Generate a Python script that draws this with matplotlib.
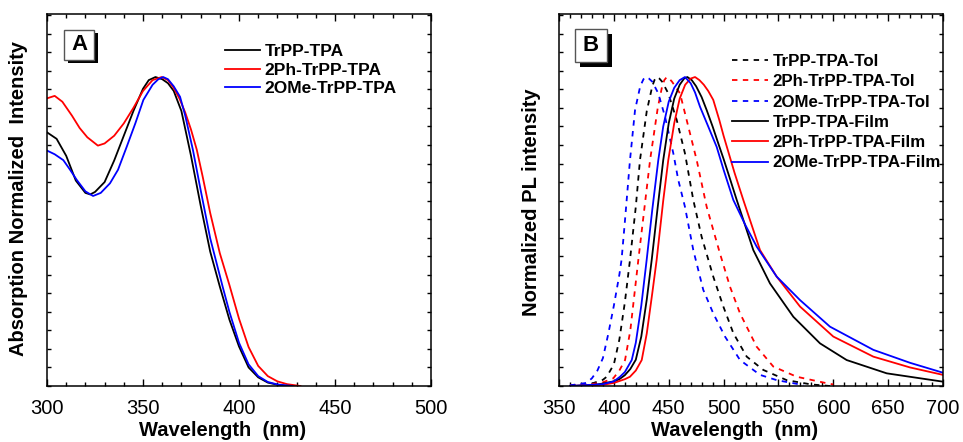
import matplotlib
matplotlib.use("Agg")
import matplotlib.pyplot as plt
from matplotlib.ticker import MultipleLocator
from matplotlib.patches import Rectangle

plt.rcParams['font.family'] = ['Liberation Sans', 'DejaVu Sans']

# ---------------- Panel A: absorption ----------------
absA_black_x = [300, 305, 310, 315, 320, 322.5, 325, 330, 335, 340, 345, 350, 353, 356.5, 360, 363, 366, 370, 375, 380, 385, 390, 395, 400, 405, 410, 415, 420, 425]
absA_black_y = [0.821, 0.80, 0.745, 0.665, 0.625, 0.62, 0.628, 0.66, 0.73, 0.81, 0.89, 0.962, 0.99, 1.0, 0.993, 0.98, 0.955, 0.89, 0.745, 0.585, 0.435, 0.322, 0.215, 0.128, 0.06, 0.028, 0.011, 0.004, 0.0]

absA_red_x = [300, 304, 308, 313, 317, 321, 326.5, 330, 335, 340, 345, 350, 355, 359.7, 363, 366, 369, 372, 375, 378, 381, 385, 390, 395, 400, 405, 410, 415, 420, 425, 432]
absA_red_y = [0.931, 0.939, 0.92, 0.875, 0.835, 0.805, 0.778, 0.785, 0.81, 0.85, 0.90, 0.955, 0.99, 1.0, 0.99, 0.965, 0.93, 0.885, 0.83, 0.765, 0.68, 0.56, 0.43, 0.327, 0.218, 0.126, 0.065, 0.032, 0.015, 0.006, 0.0]

absA_blue_x = [300, 304, 308.5, 312, 315.5, 320, 324, 328, 332.8, 337, 341.5, 346, 350.2, 355, 358, 360.5, 363, 366, 369.3, 372, 376, 380, 385, 391.5, 395, 400, 405, 410, 415, 420, 428]
absA_blue_y = [0.762, 0.75, 0.731, 0.70, 0.667, 0.63, 0.615, 0.625, 0.656, 0.70, 0.774, 0.85, 0.926, 0.975, 0.993, 1.0, 0.993, 0.97, 0.936, 0.875, 0.764, 0.635, 0.478, 0.321, 0.24, 0.14, 0.07, 0.032, 0.013, 0.005, 0.0]

labelsA = ['TrPP-TPA', '2Ph-TrPP-TPA', '2OMe-TrPP-TPA']

# ---------------- Panel B: PL ----------------
plB_black_tol_x = [360, 380, 390, 393.5, 400, 405, 410, 414.7, 420, 423.8, 430, 435, 437, 439, 441.5, 444, 449.6, 457.3, 464.8, 472.4, 480, 490.6, 499.8, 508.9, 521.1, 536.2, 557.5, 580, 597]
plB_black_tol_y = [0.002, 0.008, 0.02, 0.03, 0.07, 0.15, 0.27, 0.408, 0.58, 0.731, 0.89, 0.97, 0.99, 1.0, 0.995, 0.985, 0.947, 0.861, 0.753, 0.602, 0.483, 0.354, 0.257, 0.171, 0.095, 0.052, 0.019, 0.005, 0.0]

plB_red_tol_x = [360, 380, 390, 399.5, 405, 410.2, 415, 422.3, 428, 433, 440, 444, 446, 448.2, 450.5, 453, 460.3, 467.9, 475.5, 484.6, 496.7, 505.9, 515, 530.2, 545.3, 566.6, 594, 600]
plB_red_tol_y = [0.002, 0.006, 0.012, 0.025, 0.05, 0.084, 0.18, 0.408, 0.58, 0.731, 0.90, 0.97, 0.99, 1.0, 0.995, 0.985, 0.947, 0.839, 0.731, 0.58, 0.429, 0.321, 0.235, 0.127, 0.063, 0.03, 0.009, 0.005]

plB_blue_tol_x = [360, 375, 380, 385, 390, 395, 400, 405, 407, 410, 414.7, 419.3, 424, 427, 429, 432, 435, 440.5, 446.6, 454.2, 458.7, 464.8, 472.4, 481.5, 490.6, 501.3, 515, 533.2, 548.4, 572.7]
plB_blue_tol_y = [0.002, 0.01, 0.025, 0.05, 0.09, 0.17, 0.26, 0.36, 0.408, 0.53, 0.731, 0.893, 0.97, 0.993, 1.0, 0.995, 0.985, 0.947, 0.872, 0.753, 0.667, 0.58, 0.44, 0.311, 0.235, 0.16, 0.084, 0.036, 0.019, 0.003]

plB_black_film_x = [360, 381.3, 390, 400, 405, 410, 415, 420, 425, 430, 434.5, 440, 445, 450, 455, 460, 464, 467, 471, 475, 480, 484.6, 490, 495.2, 500, 505, 512, 527.1, 542.3, 563.6, 587.9, 612.2, 648.7, 700]
plB_black_film_y = [0.0, 0.003, 0.008, 0.015, 0.022, 0.035, 0.055, 0.085, 0.16, 0.28, 0.408, 0.58, 0.731, 0.85, 0.93, 0.975, 0.995, 1.0, 0.99, 0.97, 0.935, 0.893, 0.84, 0.785, 0.735, 0.68, 0.602, 0.44, 0.332, 0.224, 0.138, 0.084, 0.041, 0.014]

plB_red_film_x = [360, 390, 400, 410, 414.7, 420, 425.4, 430, 435, 439, 445, 449.6, 455, 460, 465, 470, 474, 478, 482, 486, 490.6, 496.1, 500, 505, 510, 518, 533.2, 548.4, 569.7, 600, 636.5, 670, 700]
plB_red_film_y = [0.0, 0.004, 0.01, 0.022, 0.03, 0.05, 0.084, 0.17, 0.30, 0.408, 0.60, 0.731, 0.85, 0.93, 0.975, 0.995, 1.0, 0.99, 0.975, 0.955, 0.926, 0.861, 0.81, 0.75, 0.69, 0.602, 0.44, 0.354, 0.257, 0.16, 0.095, 0.06, 0.036]

plB_blue_film_x = [360, 390, 400, 405.6, 410, 416.3, 420, 425, 429.9, 435, 440.5, 445, 450, 455, 460, 464.8, 470, 474, 478.5, 486, 493.7, 500, 508.9, 520, 530.2, 548.4, 569.7, 597, 636.5, 670, 700]
plB_blue_film_y = [0.0, 0.006, 0.015, 0.03, 0.045, 0.084, 0.14, 0.26, 0.408, 0.57, 0.731, 0.84, 0.92, 0.965, 0.99, 1.0, 0.98, 0.95, 0.904, 0.84, 0.774, 0.70, 0.602, 0.52, 0.451, 0.354, 0.278, 0.192, 0.117, 0.075, 0.043]

labelsB = ['TrPP-TPA-Tol', '2Ph-TrPP-TPA-Tol', '2OMe-TrPP-TPA-Tol',
           'TrPP-TPA-Film', '2Ph-TrPP-TPA-Film', '2OMe-TrPP-TPA-Film']

W, H = 963, 442
fig = plt.figure(figsize=(W / 100, H / 100), dpi=100)


def px_axes(x0, x1, ytop, ybot):
    return fig.add_axes([x0 / W, 1 - ybot / H, (x1 - x0) / W, (ybot - ytop) / H])


axA = px_axes(47, 431, 14, 386)
axB = px_axes(559, 943, 14, 386)

lw = 1.3
axA.plot(absA_black_x, absA_black_y, color='black', lw=lw, label=labelsA[0])
axA.plot(absA_red_x, absA_red_y, color='red', lw=lw, label=labelsA[1])
axA.plot(absA_blue_x, absA_blue_y, color='blue', lw=lw, label=labelsA[2])

dash = (3, 3)
axB.plot(plB_black_tol_x, plB_black_tol_y, color='black', lw=lw, ls=(0, dash), label=labelsB[0])
axB.plot(plB_red_tol_x, plB_red_tol_y, color='red', lw=lw, ls=(0, dash), label=labelsB[1])
axB.plot(plB_blue_tol_x, plB_blue_tol_y, color='blue', lw=lw, ls=(0, dash), label=labelsB[2])
axB.plot(plB_black_film_x, plB_black_film_y, color='black', lw=lw, label=labelsB[3])
axB.plot(plB_red_film_x, plB_red_film_y, color='red', lw=lw, label=labelsB[4])
axB.plot(plB_blue_film_x, plB_blue_film_y, color='blue', lw=lw, label=labelsB[5])

axA.set_xlim(300, 500)
axB.set_xlim(350, 700)
for ax in (axA, axB):
    ax.set_ylim(0, 1.204)
    ax.xaxis.set_major_locator(MultipleLocator(50))
    ax.xaxis.set_minor_locator(MultipleLocator(10))
    ax.yaxis.set_major_locator(MultipleLocator(0.06))
    ax.set_yticklabels([])
    ax.tick_params(axis='both', which='both', direction='in', top=True, right=True, width=1.0)
    ax.tick_params(axis='x', which='major', length=5, labelsize=14.5, pad=9)
    ax.tick_params(axis='x', which='minor', length=3)
    ax.tick_params(axis='y', which='major', length=3, labelleft=False)
    for s in ax.spines.values():
        s.set_linewidth(1.1)
    ax.set_xlabel('Wavelength  (nm)', fontsize=14.5, fontweight='bold')
    ax.xaxis.set_label_coords(0.457, -0.093)

axA.set_ylabel('Absorption Normalized  Intensity', fontsize=14.5, fontweight='bold')
axA.yaxis.set_label_coords(-0.049, 0.505)
axB.set_ylabel('Normalized PL intensity', fontsize=14.5, fontweight='bold')
axB.yaxis.set_label_coords(-0.048, 0.495)

axA.legend(loc='upper left', bbox_to_anchor=(0.4635, 0.919), frameon=False,
           prop={'weight': 'bold', 'size': 12.5}, handlelength=2.0, handletextpad=0.29,
           labelspacing=0.19, borderpad=0, borderaxespad=0)
axB.legend(loc='upper left', bbox_to_anchor=(0.4505, 0.892), frameon=False,
           prop={'weight': 'bold', 'size': 12.2}, handlelength=2.1, handletextpad=0.29,
           labelspacing=0.31, borderpad=0, borderaxespad=0)


def label_box(letter, x0, y0, x1, y1, off):
    # shadow
    fig.add_artist(Rectangle(((x0 + off) / W, 1 - (y1 + off) / H), (x1 - x0) / W, (y1 - y0) / H,
                             transform=fig.transFigure, facecolor='black', edgecolor='black', lw=0, zorder=5))
    fig.add_artist(Rectangle((x0 / W, 1 - y1 / H), (x1 - x0) / W, (y1 - y0) / H,
                             transform=fig.transFigure, facecolor='white', edgecolor='#555555', lw=1.0, zorder=6))
    fig.text((x0 + x1) / 2 / W, 1 - (y0 + y1) / 2 / H, letter, ha='center', va='center',
             fontsize=16, fontweight='bold', zorder=7)


label_box('A', 64, 30, 94, 60, 3.5)
label_box('B', 575, 29, 607, 62, 4.5)

fig.savefig('out.png', dpi=100)
